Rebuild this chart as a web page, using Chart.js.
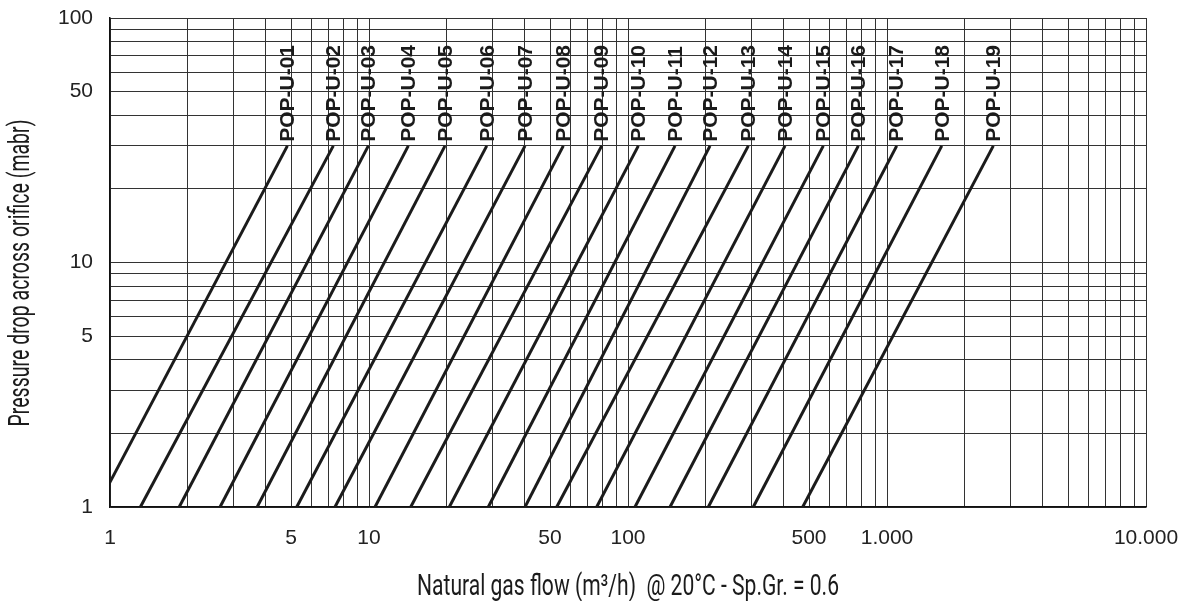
<!DOCTYPE html>
<html>
<head>
<meta charset="utf-8">
<script src="https://cdn.jsdelivr.net/npm/chart.js@4/dist/chart.umd.min.js"></script>
<style>
  html, body { margin: 0; padding: 0; background: #fff; }
  #wrap { width: 1187px; height: 601px; position: relative; }
</style>
</head>
<body>
<div id="wrap"><canvas id="orificeChart"></canvas></div>
<script>
// orifice types, one line each
const orificeNames = [
    "POP-U-01", "POP-U-02", "POP-U-03", "POP-U-04", "POP-U-05", "POP-U-06",
    "POP-U-07", "POP-U-08", "POP-U-09", "POP-U-10", "POP-U-11", "POP-U-12",
    "POP-U-13", "POP-U-14", "POP-U-15", "POP-U-16", "POP-U-17", "POP-U-18",
    "POP-U-19"
];

// flow (m3/h) at 1 mbar and at 30 mbar
const flowAtLow = [0.89, 1.31, 1.85, 2.66, 3.70, 5.26, 7.39, 10.55, 14.49, 20.42,
    28.88, 40.03, 53.05, 75.7, 106.4, 145.3, 204.2, 304.6, 472.6];
const flowAtHigh = [4.84, 7.28, 9.94, 14.18, 19.65, 28.48, 40.03, 56.26, 79.14, 109.6,
    151.9, 207.3, 291.4, 403.9, 567.6, 774.9, 1090, 1627, 2573];
const pressureLow = 1;
const pressureHigh = 30;

// grid + tick labels
const xGridValues = [1, 2, 3, 4, 5, 6, 7, 8, 9, 10, 20, 30, 40, 50, 60, 70, 80, 90,
    100, 200, 300, 400, 500, 600, 700, 800, 900, 1000, 2000, 3000, 4000, 5000,
    6000, 7000, 8000, 9000, 10000];
const xLabelValues = [1, 5, 10, 50, 100, 500, 1000, 10000];
const xLabelTexts = ["1", "5", "10", "50", "100", "500", "1.000", "10.000"];
const yGridValues = [1, 2, 3, 4, 5, 6, 7, 8, 9, 10, 20, 30, 40, 50, 60, 70, 80, 90, 100];
const yLabelValues = [1, 5, 10, 50, 100];
const yLabelTexts = ["1", "5", "10", "50", "100"];

const xTitle = "Natural gas flow (m\u00B3/h)  @ 20\u00B0C - Sp.Gr. = 0.6";
const yTitle = "Pressure drop across orifice (mabr)";

function labelFor(values, texts, v) {
    const i = values.indexOf(Number(v));
    return i >= 0 ? texts[i] : "";
}

const datasets = orificeNames.map((name, i) => ({
    label: name,
    data: [
        { x: flowAtLow[i], y: pressureLow },
        { x: flowAtHigh[i], y: pressureHigh }
    ],
    borderColor: "#1b1b1b",
    borderWidth: 3,
    pointRadius: 0,
    fill: false,
    tension: 0
}));

// draws the POP-U-xx names standing on top of every line
const lineLabels = {
    id: "lineLabels",
    afterDatasetsDraw(chart) {
        const ctx = chart.ctx;
        ctx.save();
        ctx.font = "bold 21px 'Liberation Sans', Arial, sans-serif";
        ctx.fillStyle = "#1b1b1b";
        ctx.textAlign = "left";
        ctx.textBaseline = "middle";
        chart.data.datasets.forEach((ds, i) => {
            const pt = chart.getDatasetMeta(i).data[1];
            ctx.save();
            ctx.translate(pt.x + 1, pt.y - 4);
            ctx.rotate(-Math.PI / 2);
            ctx.fillText(ds.label, 0, 0);
            ctx.restore();
        });
        ctx.restore();
    }
};

// axis titles in a narrow look
function squeezedText(ctx, text, cx, cy, targetWidth, angle) {
    ctx.save();
    ctx.translate(cx, cy);
    ctx.rotate(angle);
    const w = ctx.measureText(text).width;
    ctx.scale(targetWidth / w, 1);
    ctx.fillText(text, 0, 0);
    ctx.restore();
}

const axisTitles = {
    id: "axisTitles",
    afterDraw(chart) {
        const ctx = chart.ctx;
        const area = chart.chartArea;
        ctx.save();
        ctx.font = "29px Roboto, 'DejaVu Sans', sans-serif";
        ctx.fillStyle = "#1b1b1b";
        ctx.textAlign = "center";
        ctx.textBaseline = "middle";
        squeezedText(ctx, xTitle, (area.left + area.right) / 2, 588, 422, 0);
        squeezedText(ctx, yTitle, 22, 273, 307, -Math.PI / 2);
        ctx.restore();
    }
};

const tickFont = { family: "'Liberation Sans', Arial, sans-serif", size: 21 };
const gridStyle = { color: "#333", lineWidth: 1, drawTicks: false };

const ctx = document.getElementById("orificeChart").getContext("2d");
const orificeChart = new Chart(ctx, {
    type: "line",
    data: { datasets: datasets },
    options: {
        responsive: true,
        maintainAspectRatio: false,
        animation: false,
        layout: { padding: { top: 18, right: 41, bottom: 0, left: 0 } },
        plugins: {
            legend: { display: false },
            tooltip: { enabled: false }
        },
        scales: {
            x: {
                type: "logarithmic",
                min: 1,
                max: 10000,
                afterBuildTicks: s => { s.ticks = xGridValues.map(v => ({ value: v })); },
                afterFit: s => { s.height = 94; s.paddingLeft = 0; s.paddingRight = 0; },
                grid: gridStyle,
                border: { color: "#111", width: 1.5 },
                ticks: {
                    autoSkip: false,
                    maxRotation: 0,
                    padding: 19,
                    color: "#222",
                    font: tickFont,
                    callback: v => labelFor(xLabelValues, xLabelTexts, v)
                }
            },
            y: {
                type: "logarithmic",
                min: 1,
                max: 100,
                afterBuildTicks: s => { s.ticks = yGridValues.map(v => ({ value: v })); },
                afterFit: s => { s.width = 110; s.paddingTop = 0; s.paddingBottom = 0; },
                grid: gridStyle,
                border: { color: "#111", width: 1.5 },
                ticks: {
                    autoSkip: false,
                    padding: 17,
                    color: "#222",
                    font: tickFont,
                    callback: v => labelFor(yLabelValues, yLabelTexts, v)
                }
            }
        }
    },
    plugins: [lineLabels, axisTitles]
});
</script>
</body>
</html>
